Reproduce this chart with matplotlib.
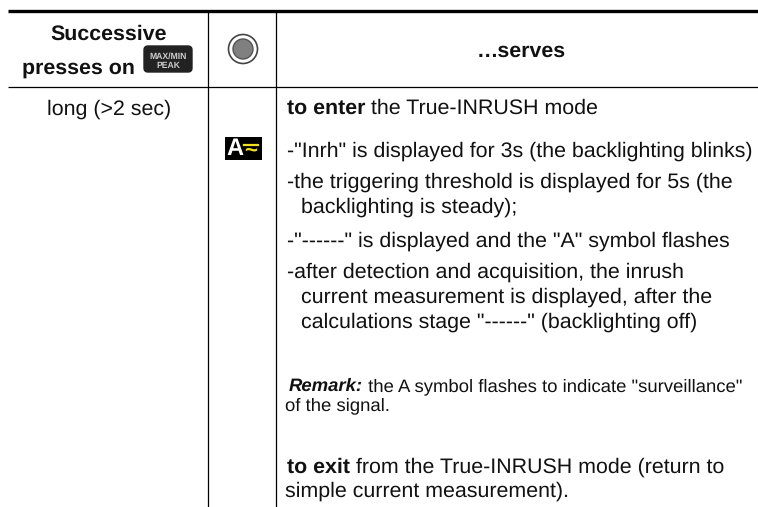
import matplotlib
matplotlib.use('Agg')
import matplotlib.pyplot as plt
from matplotlib.patches import Circle, FancyBboxPatch, Rectangle

plt.rcParams['font.family'] = ['Liberation Sans', 'DejaVu Sans']
plt.rcParams['text.hinting'] = 'no_hinting'

# Table text
header_left = ['Successive', 'presses on']
header_right = '…serves'
button_labels = ['MAX/MIN', 'PEAK']
press_type = 'long (>2 sec)'
mode_symbol = 'A'
# (bold lead, regular rest)
body_lines = [
    ('to enter', ' the True-INRUSH mode'),
    ('', '-"Inrh" is displayed for 3s (the backlighting blinks)'),
    ('', '-the triggering threshold is displayed for 5s (the'),
    ('', 'backlighting is steady);'),
    ('', '-"------" is displayed and the "A" symbol flashes'),
    ('', '-after detection and acquisition, the inrush'),
    ('', 'current measurement is displayed, after the'),
    ('', 'calculations stage "------" (backlighting off)'),
    ('to exit', ' from the True-INRUSH mode (return to'),
    ('', 'simple current measurement).'),
]
body_y = [114, 157, 188, 213, 247, 278, 303, 328, 473, 497]
body_x = [287, 287, 287, 301, 287, 287, 301, 301, 287, 285]
remark_lead = 'Remark:'
remark_lines = [' the A symbol flashes to indicate "surveillance"', 'of the signal.']

fig = plt.figure(figsize=(7.58, 5.07), dpi=100)
ax = fig.add_axes([0, 0, 1, 1])
ax.set_xlim(0, 758)
ax.set_ylim(507, 0)
ax.axis('off')

# Rules
ax.plot([8, 758], [10.8, 10.8], color='black', lw=2.4, solid_capstyle='butt')
ax.plot([8, 758], [87, 87], color='black', lw=0.9, solid_capstyle='butt')
ax.plot([208, 208], [11, 507], color='black', lw=0.9, solid_capstyle='butt')
ax.plot([275.5, 275.5], [11, 507], color='black', lw=0.9, solid_capstyle='butt')

# Header
ax.text(109, 40, header_left[0], fontsize=15.4, fontweight='bold', ha='center', va='baseline', color='#111111')
ax.text(78, 74, header_left[1], fontsize=15.4, fontweight='bold', ha='center', va='baseline', color='#111111')
ax.text(521, 57, header_right, fontsize=15.4, fontweight='bold', ha='center', va='baseline', color='#111111')

# MAX/MIN PEAK button
ax.add_patch(FancyBboxPatch((144, 46), 48, 26, boxstyle='round,pad=0,rounding_size=4',
                            fc='#222222', ec='#222222', lw=1))
ax.text(168, 56, button_labels[0], fontsize=6.2, fontweight='bold', ha='center', va='center', color='#cccccc')
ax.text(168, 65.5, button_labels[1], fontsize=6.2, fontweight='bold', ha='center', va='center', color='#cccccc')

# Round button
ax.add_patch(Circle((243, 49), 14.5, fc='white', ec='#444444', lw=1.2))
ax.add_patch(Circle((243, 49), 10, fc='#808080', ec='#555555', lw=1))

# Second column
ax.text(109.5, 115, press_type, fontsize=15.4, ha='center', va='baseline', color='#111111')

# A~ symbol
ax.add_patch(Rectangle((225, 137), 37, 23, fc='black', ec='none'))
ax.text(235, 155, mode_symbol, fontsize=17, fontweight='bold', ha='center', va='baseline', color='white')
ax.plot([244, 258], [144.5, 144.5], color='#f2e020', lw=1.6)
ax.text(251, 151, '~', fontsize=16, fontweight='bold', ha='center', va='center', color='#f2e020')

# Text with a bold lead followed by regular text
fig.canvas.draw()
renderer = fig.canvas.get_renderer()


def mixed(x, y, lead, rest, size, lead_style=None):
    if lead:
        t = ax.text(x, y, lead, fontsize=size, fontweight='bold', fontstyle=lead_style or 'normal',
                    va='baseline', color='#111111')
        x = ax.transData.inverted().transform(t.get_window_extent(renderer))[1][0]
    ax.text(x, y, rest, fontsize=size, va='baseline', color='#111111')


for (lead, rest), x, y in zip(body_lines, body_x, body_y):
    mixed(x, y, lead, rest, 15.4)

mixed(289, 391, remark_lead, remark_lines[0], 13.3, 'italic')
mixed(285, 410, '', remark_lines[1], 13.3)

fig.savefig('out.png', dpi=100)
